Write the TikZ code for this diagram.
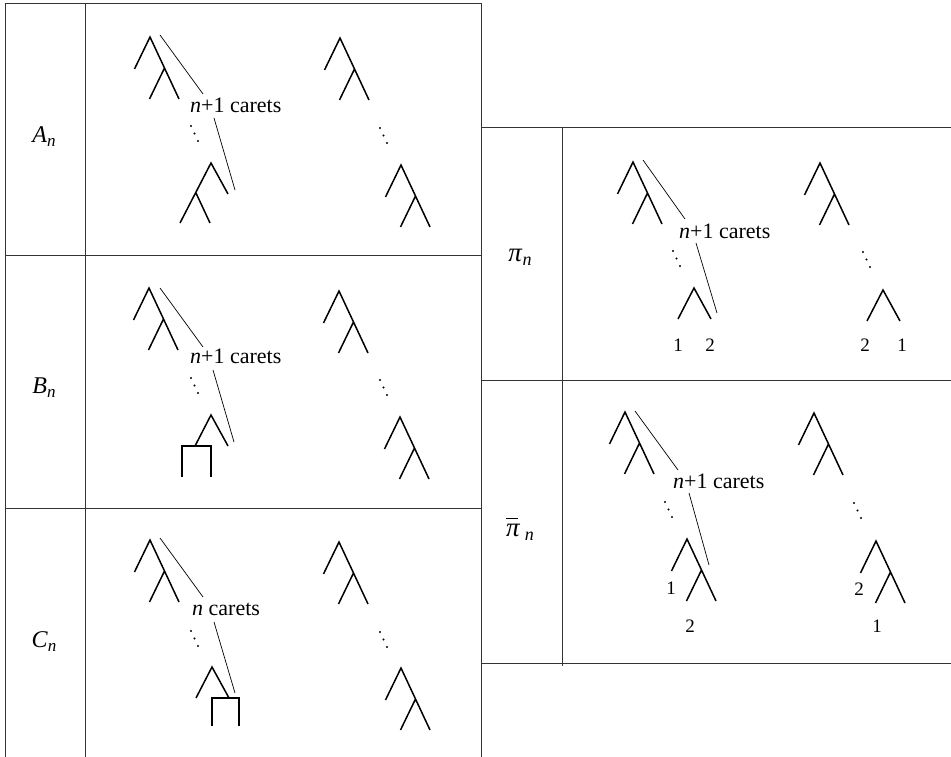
\documentclass[tikz,border=0pt]{standalone}
\usepackage{fontspec}
\setmainfont{Liberation Serif}
\newcommand\lbl[2]{\textit{#1}\raisebox{-4pt}{\fontsize{17}{17}\selectfont\textit{#2}}}
\newcommand\barpi{\ooalign{\textit{π}\cr\raisebox{0.62em}{\rule{0.42em}{0.045em}}\hfil\cr}}
\newcommand\dd[2]{\fill (#1,#2) circle (1.1) ++(3.5,7.5) circle (1.1) ++(3.5,7.5) circle (1.1);}
\tikzset{
  pics/rtree/.style={code={\draw[tree] (-15.5,32)--(0,0)--(29,62) (14.5,31)--(-0.5,62);}},
  pics/ltree/.style={code={\draw[tree] (-31,60)--(0,0)--(17,31) (-15,30)--(-1,60);}},
  pics/caret/.style={code={\draw[tree] (-16,31)--(0,0)--(17,31);}},
}
\begin{document}
\begin{tikzpicture}[x=1pt,y=-1pt,
  tree/.style={line width=1.5pt,line join=miter},
  thinl/.style={line width=0.7pt},
  grid/.style={line width=0.9pt,black!80},
  ctext/.style={inner sep=0pt,anchor=base west,font=\fontsize{22}{26}\selectfont},
  rowlbl/.style={inner sep=0pt,font=\fontsize{24}{28}\selectfont},
  pilbl/.style={inner sep=0pt,font=\fontsize{27}{30}\selectfont},
  leaf/.style={inner sep=0pt,font=\fontsize{19}{22}\selectfont}]
\useasboundingbox (0,0) rectangle (951,757);
% tables
\draw[grid] (5,757)--(5,3)--(481,3)--(481,757);
\draw[grid] (85,3)--(85,757);
\draw[grid] (5,255)--(481,255) (5,508)--(481,508);
\draw[grid] (481,127)--(951,127) (481,380)--(951,380) (481,663)--(951,663);
\draw[grid] (562,127)--(562,666);
% row A
\node[rowlbl] (lA) at (44,137) {\lbl{A}{n}};
\pic (a1) at (150,37) {rtree};
\draw[thinl] (160,35)--(203,94);
\node[ctext] (tA) at (190,113) {\textit{n}+1 carets};
\draw[thinl] (214,118)--(235,190);
\dd{191}{126}
\pic (a2) at (211,163) {ltree};
\pic (a3) at (340,38) {rtree};
\dd{380}{128}
\pic (a4) at (401,165) {rtree};
% row B
\node[rowlbl] (lB) at (44,388) {\lbl{B}{n}};
\pic (b1) at (149,288) {rtree};
\draw[thinl] (160,288)--(203,347);
\node[ctext] (tB) at (190,363) {\textit{n}+1 carets};
\draw[thinl] (213,370)--(234,442);
\dd{191}{378}
\pic (b2) at (211,415) {caret};
\draw[tree] (182,477)--(182,446)--(211,446)--(211,477);
\pic (b3) at (339,291) {rtree};
\dd{380}{380}
\pic (b4) at (400,417) {rtree};
% row C
\node[rowlbl] (lC) at (44,642) {\lbl{C}{n}};
\pic (c1) at (150,540) {rtree};
\draw[thinl] (160,538)--(203,597);
\node[ctext] (tC) at (192,615) {\textit{n} carets};
\draw[thinl] (214,622)--(235,693);
\dd{191}{631}
\pic (c2) at (212,667) {caret};
\draw[tree] (212,726)--(212,698)--(239,698)--(239,726);
\pic (c3) at (339,542) {rtree};
\dd{380}{632}
\pic (c4) at (401,668) {rtree};
% row pi
\node[pilbl] (lP) at (520,257) {\textit{π}\raisebox{-4pt}{\fontsize{18}{18}\selectfont\textit{n}}};
\pic (p1) at (633,162) {rtree};
\draw[thinl] (643,160)--(685,219);
\node[ctext] (tP) at (679,238) {\textit{n}+1 carets};
\draw[thinl] (696,243)--(717,313);
\dd{673}{251}
\pic (p2) at (694,288) {caret};
\node[leaf] (p21) at (678,345) {1};
\node[leaf] (p22) at (710,345) {2};
\pic (p3) at (820,163) {rtree};
\dd{863}{252}
\pic (p4) at (883,290) {caret};
\node[leaf] (p42) at (865,345) {2};
\node[leaf] (p41) at (902,345) {1};
% row pibar
\node[pilbl] (lQ) at (520,532) {\barpi\,\raisebox{-4pt}{\fontsize{18}{18}\selectfont\textit{n}}};
\pic (q1) at (625,412) {rtree};
\draw[thinl] (635,411)--(678,470);
\node[ctext] (tQ) at (673,488) {\textit{n}+1 carets};
\draw[thinl] (689,493)--(709,565);
\dd{665}{502}
\pic (q2) at (687,539) {rtree};
\node[leaf] (q21) at (671,588) {1};
\node[leaf] (q22) at (690,626) {2};
\pic (q3) at (814,413) {rtree};
\dd{854}{503}
\pic (q4) at (876,541) {rtree};
\node[leaf] (q42) at (859,589) {2};
\node[leaf] (q41) at (877,626) {1};
\end{tikzpicture}
\end{document}
